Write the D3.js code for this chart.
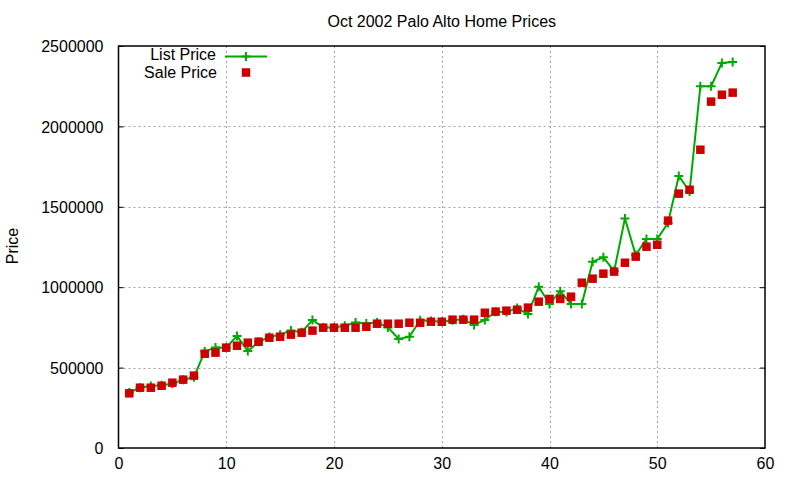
<!DOCTYPE html>
<html>
<head>
<meta charset="utf-8">
<script src="https://cdn.jsdelivr.net/npm/d3@7"></script>
<style>
  body { margin: 0; background: #fff; }
  svg text { font-family: "Liberation Sans", Arial, sans-serif; font-size: 16px; fill: #000; }
</style>
</head>
<body>
<div class="container"></div>
<script>
// home index on the x axis
const homes = d3.range(1, 58)

const listPrices = [
  345000, 375000, 385000, 390000, 400000, 425000, 440000, 600000, 625000, 624000,
  697000, 603000, 660000, 690000, 705000, 730000, 720000, 796000, 750000, 750000,
  760000, 780000, 775000, 780000, 750000, 678000, 692000, 795000, 790000, 785000,
  795000, 800000, 765000, 796000, 848000, 845000, 870000, 833000, 1003000, 896000,
  975000, 896000, 896000, 1159000, 1186000, 1100000, 1428000, 1200000, 1300000, 1300000,
  1400000, 1692000, 1595000, 2250000, 2250000, 2395000, 2400000
]

const salePrices = [
  340000, 375000, 375000, 387000, 406000, 425000, 450000, 586000, 593000, 624000,
  636000, 655000, 661000, 686000, 692000, 705000, 717000, 730000, 748000, 748000,
  748000, 748000, 754000, 773000, 773000, 773000, 779000, 779000, 785000, 785000,
  798000, 798000, 798000, 841000, 848000, 854000, 860000, 873000, 910000, 927000,
  927000, 941000, 1028000, 1053000, 1084000, 1097000, 1152000, 1190000, 1252000, 1264000,
  1414000, 1582000, 1606000, 1855000, 2154000, 2197000, 2210000
]

const xTicks = [0, 10, 20, 30, 40, 50, 60]
const yTicks = [0, 500000, 1000000, 1500000, 2000000, 2500000]

const width = 800
const height = 480
const margins = { top: 46, right: 35, bottom: 32, left: 118.5 }

const green = '#00a800'
const red = '#cc0000'

const svg = d3.select('.container').append('svg')
  .attr('width', width).attr('height', height)

const xScale = d3.scaleLinear().domain([0, 60]).range([margins.left, width - margins.right])
const yScale = d3.scaleLinear().domain([0, 2500000]).range([height - margins.bottom, margins.top])

const x0 = xScale.range()[0], x1 = xScale.range()[1]
const y0 = yScale.range()[0], y1 = yScale.range()[1]

// grid
const grid = svg.append('g')
  .attr('stroke', '#a0a0a0').attr('stroke-width', 1).attr('stroke-dasharray', '2,3')
grid.selectAll('.gx').data(xTicks.slice(1, -1)).join('line')
  .attr('x1', d => Math.round(xScale(d)) + 0.5).attr('x2', d => Math.round(xScale(d)) + 0.5)
  .attr('y1', y0).attr('y2', y1)
grid.selectAll('.gy').data(yTicks.slice(1, -1)).join('line')
  .attr('y1', d => Math.round(yScale(d)) + 0.5).attr('y2', d => Math.round(yScale(d)) + 0.5)
  .attr('x1', x0).attr('x2', x1)

// axes, gnuplot style: ticks inward, labels outside
const axisLeft = d3.axisLeft(yScale).tickValues(yTicks).tickSize(-5).tickPadding(15).tickFormat(d3.format('d'))
const axisRight = d3.axisRight(yScale).tickValues(yTicks).tickSize(-5).tickFormat('')
const axisBottom = d3.axisBottom(xScale).tickValues(xTicks).tickSize(0).tickPadding(10)

const gl = svg.append('g').attr('transform', `translate(${x0},0)`).call(axisLeft)
gl.selectAll('text').attr('dy', '0.35em')
svg.append('g').attr('transform', `translate(${x1},0)`).call(axisRight)
svg.append('g').attr('transform', `translate(0,${y0})`).call(axisBottom)

svg.selectAll('.domain').remove()
svg.selectAll('.tick line').attr('stroke', '#000')
svg.selectAll('.tick text').style('font-size', '16px').style('font-family', '"Liberation Sans", Arial, sans-serif').attr('fill', '#000')

// frame
svg.append('rect')
  .attr('x', x0).attr('y', y1).attr('width', x1 - x0).attr('height', y0 - y1)
  .attr('fill', 'none').attr('stroke', '#000').attr('stroke-width', 1.5)

// title and y label
svg.append('text').attr('x', (x0 + x1) / 2).attr('y', 27).attr('text-anchor', 'middle')
  .text('Oct 2002 Palo Alto Home Prices')
svg.append('text').attr('transform', 'translate(18,246) rotate(-90)').attr('text-anchor', 'middle')
  .text('Price')

const listData = homes.map((h, i) => ({ x: h, y: listPrices[i] }))
const saleData = homes.map((h, i) => ({ x: h, y: salePrices[i] }))

const plusPath = (cx, cy, r) => `M${cx - r},${cy}H${cx + r}M${cx},${cy - r}V${cy + r}`

// list price: line with plus points
svg.append('path')
  .datum(listData)
  .attr('fill', 'none').attr('stroke', green).attr('stroke-width', 2)
  .attr('d', d3.line().x(d => xScale(d.x)).y(d => yScale(d.y)))
svg.append('path')
  .attr('fill', 'none').attr('stroke', green).attr('stroke-width', 2)
  .attr('d', listData.map(d => plusPath(xScale(d.x), yScale(d.y), 4.5)).join(''))

// sale price: filled squares
const sq = 8.5
svg.append('g').selectAll('rect').data(saleData).join('rect')
  .attr('x', d => xScale(d.x) - sq / 2).attr('y', d => yScale(d.y) - sq / 2)
  .attr('width', sq).attr('height', sq).attr('fill', red)

// legend
const legend = svg.append('g')
legend.append('text').attr('x', 216).attr('y', 60).attr('text-anchor', 'end').text('List Price')
legend.append('line').attr('x1', 225).attr('x2', 267).attr('y1', 56.5).attr('y2', 56.5)
  .attr('stroke', green).attr('stroke-width', 2)
legend.append('path').attr('d', plusPath(246, 56.5, 4.5)).attr('stroke', green).attr('stroke-width', 2)
legend.append('text').attr('x', 217).attr('y', 78).attr('text-anchor', 'end').text('Sale Price')
legend.append('rect').attr('x', 246 - sq / 2).attr('y', 72.5 - sq / 2).attr('width', sq).attr('height', sq)
  .attr('fill', red)
</script>
</body>
</html>
